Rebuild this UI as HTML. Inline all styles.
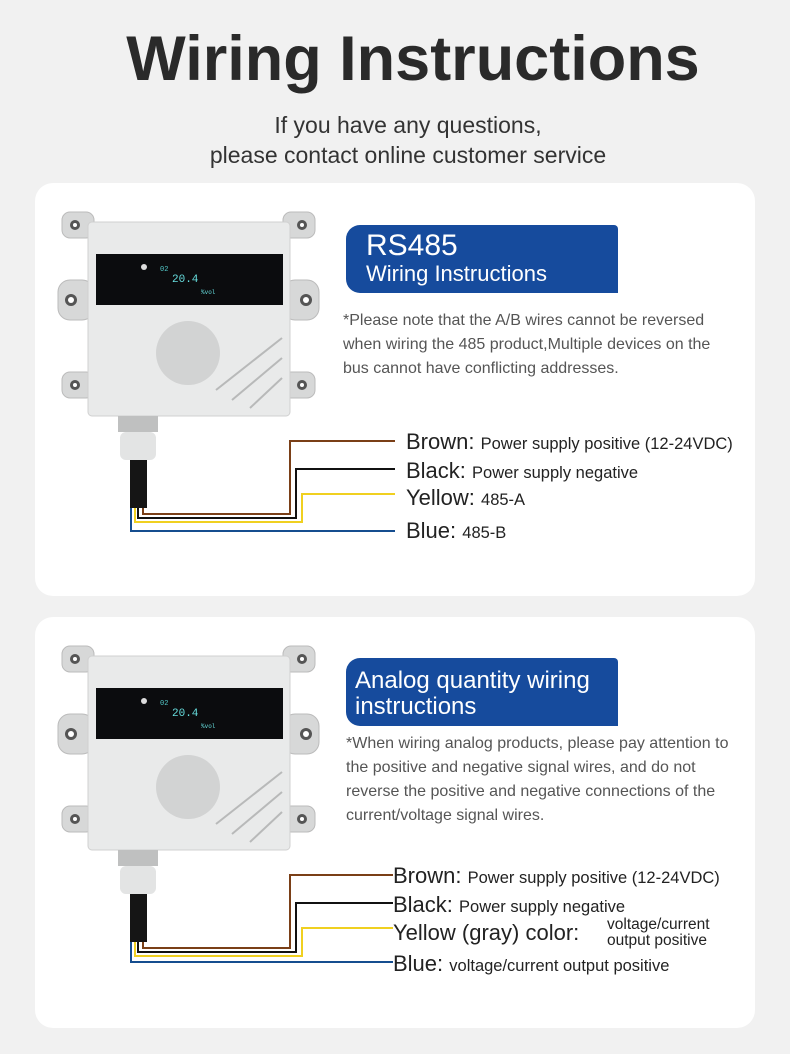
<!DOCTYPE html>
<html><head><meta charset="utf-8"><style>
body{margin:0;width:790px;height:1054px;background:#f1f1f1;font-family:"Liberation Sans",sans-serif;position:relative;overflow:hidden;color:#333}
.a{position:absolute}
h1{position:absolute;left:18px;width:790px;top:23px;margin:0;text-align:center;font-size:63px;font-weight:bold;color:#2a2a2a}
.sub{left:13px;width:790px;top:110px;text-align:center;font-size:23px;line-height:30px;color:#333}
.card{left:35px;width:720px;background:#fff;border-radius:18px}
.ban{background:#164b9d;color:#fff;border-radius:14px 4px 0 14px;padding-left:20px;box-sizing:border-box}
.note{font-size:16px;line-height:24px;color:#555}
.lab{font-size:22px;color:#222;white-space:nowrap}
.lab small{font-size:16.5px}
</style></head><body>
<h1>Wiring Instructions</h1>
<div class="a sub">If you have any questions,<br>please contact online customer service</div>

<div class="a card" style="top:183px;height:413px"></div>
<div class="a card" style="top:617px;height:411px"></div>

<svg class="a" style="left:0;top:0" width="790" height="1054">
<defs>
<g id="dev">
 <g fill="#d7d8d8" stroke="#bbb">
  <rect x="62" y="12" width="32" height="26" rx="8"/><rect x="283" y="12" width="32" height="26" rx="8"/>
  <rect x="58" y="80" width="36" height="40" rx="12"/><rect x="283" y="80" width="36" height="40" rx="12"/>
  <rect x="62" y="172" width="32" height="26" rx="8"/><rect x="283" y="172" width="32" height="26" rx="8"/>
 </g>
 <g fill="#555"><circle cx="75" cy="25" r="5"/><circle cx="302" cy="25" r="5"/><circle cx="71" cy="100" r="6"/><circle cx="306" cy="100" r="6"/><circle cx="75" cy="185" r="5"/><circle cx="302" cy="185" r="5"/></g>
 <g fill="#fff"><circle cx="75" cy="25" r="2"/><circle cx="302" cy="25" r="2"/><circle cx="71" cy="100" r="3"/><circle cx="306" cy="100" r="3"/><circle cx="75" cy="185" r="2"/><circle cx="302" cy="185" r="2"/></g>
 <rect x="88" y="22" width="202" height="194" rx="4" fill="#e9eaea" stroke="#d0d0d0"/>
 <rect x="96" y="54" width="187" height="51" fill="#0b0c0e"/>
 <circle cx="144" cy="67" r="3" fill="#ddd"/>
 <text x="160" y="71" font-size="7" fill="#5cc" font-family="Liberation Mono">02</text>
 <text x="172" y="82" font-size="11" fill="#6dd" font-family="Liberation Mono">20.4</text>
 <text x="201" y="94" font-size="6" fill="#6dd" font-family="Liberation Mono">%vol</text>
 <circle cx="188" cy="153" r="32" fill="#d2d3d3"/>
 <g stroke="#b8b9b9" stroke-width="2"><line x1="216" y1="190" x2="282" y2="138"/><line x1="232" y1="200" x2="282" y2="158"/><line x1="250" y1="208" x2="282" y2="178"/></g>
 <rect x="118" y="216" width="40" height="16" fill="#bfc0c0"/>
 <rect x="120" y="232" width="36" height="28" rx="6" fill="#e3e4e4"/>
 <rect x="130" y="260" width="17" height="48" fill="#151515"/>
</g>
</defs>
<use href="#dev" y="200"/>
<use href="#dev" y="634"/>
<g fill="none" stroke-width="2">
 <polyline points="395,441 290,441 290,514 143,514 143,508" stroke="#7a3f17"/>
 <polyline points="395,469 296,469 296,518 138,518 138,508" stroke="#111"/>
 <polyline points="395,494 302,494 302,522 135,522 135,508" stroke="#f0d020"/>
 <polyline points="395,531 131,531 131,508" stroke="#154d8f"/>
 <polyline points="393,875 290,875 290,948 143,948 143,942" stroke="#7a3f17"/>
 <polyline points="393,903 296,903 296,952 138,952 138,942" stroke="#111"/>
 <polyline points="393,928 302,928 302,956 135,956 135,942" stroke="#f0d020"/>
 <polyline points="393,962 131,962 131,942" stroke="#154d8f"/>
</g>
</svg>

<div class="a ban" style="left:346px;top:225px;width:272px;height:68px;padding-top:6px">
 <div style="font-size:30px;line-height:30px">RS485</div><div style="font-size:22px;line-height:26px">Wiring Instructions</div></div>
<div class="a note" style="left:343px;top:309px;width:395px">*Please note that the A/B wires cannot be reversed when wiring the 485 product,Multiple devices on the bus cannot have conflicting addresses.</div>
<div class="a lab" style="left:406px;top:429px">Brown: <small>Power supply positive (12-24VDC)</small></div>
<div class="a lab" style="left:406px;top:458px">Black: <small>Power supply negative</small></div>
<div class="a lab" style="left:406px;top:485px">Yellow: <small>485-A</small></div>
<div class="a lab" style="left:406px;top:518px">Blue: <small>485-B</small></div>

<div class="a ban" style="left:346px;top:658px;width:272px;height:68px;padding-left:9px;padding-top:10px">
 <div style="font-size:24px;line-height:26px">Analog quantity wiring<br>instructions</div></div>
<div class="a note" style="left:346px;top:732px;width:398px">*When wiring analog products, please pay attention to the positive and negative signal wires, and do not reverse the positive and negative connections of the current/voltage signal wires.</div>
<div class="a lab" style="left:393px;top:863px">Brown: <small>Power supply positive (12-24VDC)</small></div>
<div class="a lab" style="left:393px;top:892px">Black: <small>Power supply negative</small></div>
<div class="a lab" style="left:393px;top:920px">Yellow (gray) color:</div>
<div class="a" style="left:607px;top:917px;font-size:15.5px;line-height:16px;color:#222">voltage/current<br>output positive</div>
<div class="a lab" style="left:393px;top:951px">Blue: <small>voltage/current output positive</small></div>
</body></html>
